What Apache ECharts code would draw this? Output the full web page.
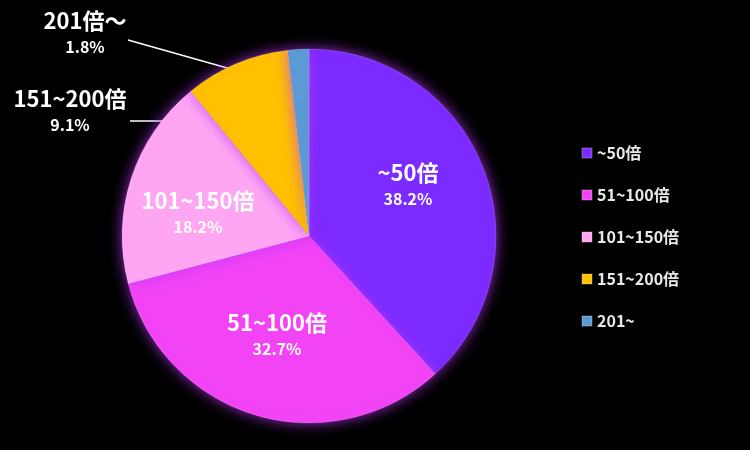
<!DOCTYPE html>
<html><head><meta charset="utf-8">
<script src="https://cdn.jsdelivr.net/npm/echarts@6/dist/echarts.min.js"></script>
<style>html,body{margin:0;background:#000}#c{width:750px;height:450px}</style>
</head><body><div id="c"></div>
<script>
const categories = ['~50倍','51~100倍','101~150倍','151~200倍','201~'];
const labelNames = ['~50倍','51~100倍','101~150倍','151~200倍','201倍～'];
const values = [38.2, 32.7, 18.2, 9.1, 1.8];
const colors = ['#7b2bff','#f244f5','#ffa6f2','#ffc000','#5b9bd5'];
const labelPos = [[408,184],[277,334],[198,212],[70,110],[85,32]];
const chart = echarts.init(document.getElementById('c'));
chart.setOption({
  backgroundColor:'#000',
  animation:false,
  color: colors,
  legend:{orient:'vertical',left:576,top:140,itemWidth:10,itemHeight:10,itemGap:26,icon:'rect',
    textStyle:{color:'#e8e8e8',fontSize:16,fontFamily:'Noto Sans CJK JP',fontWeight:'bold'},data:categories},
  series:[{type:'pie',center:[309,236],radius:187,startAngle:90,clockwise:true,
    itemStyle:{shadowBlur:14,shadowColor:'rgba(190,60,255,0.8)',borderColor:'rgba(255,255,255,0.15)',borderWidth:1},
    data: categories.map((c,i)=>({name:c,value:values[i],
      label: i<3 ? {position:'inside'} : {position:'outside'},
      labelLine: i<3 ? {show:false} : {show:true,length:20,length2:20,lineStyle:{color:'#fff',width:1.5}}})),
    label:{fontFamily:'Noto Sans CJK JP',color:'#fff',align:'center',
      formatter:p=>'{a|'+labelNames[p.dataIndex]+'}\n{b|'+p.value.toFixed(1)+'%}',
      rich:{a:{fontSize:22,fontWeight:'bold',color:'#fff',lineHeight:30,fontFamily:'Noto Sans CJK JP'},
            b:{fontSize:16,fontWeight:'bold',color:'#fff',lineHeight:22}}},
    labelLayout:p=>{const i=p.dataIndex;
      const r={x:labelPos[i][0],y:labelPos[i][1],align:'center',verticalAlign:'middle'};
      if(i===3){r.labelLinePoints=[[130,121],[255,121],[255,121]];}
      if(i===4){r.labelLinePoints=[[128,40],[298,88],[298,88]];}
      if(i>=3){r.fontSize=20;}
      return r;}
  }]
});
</script></body></html>
